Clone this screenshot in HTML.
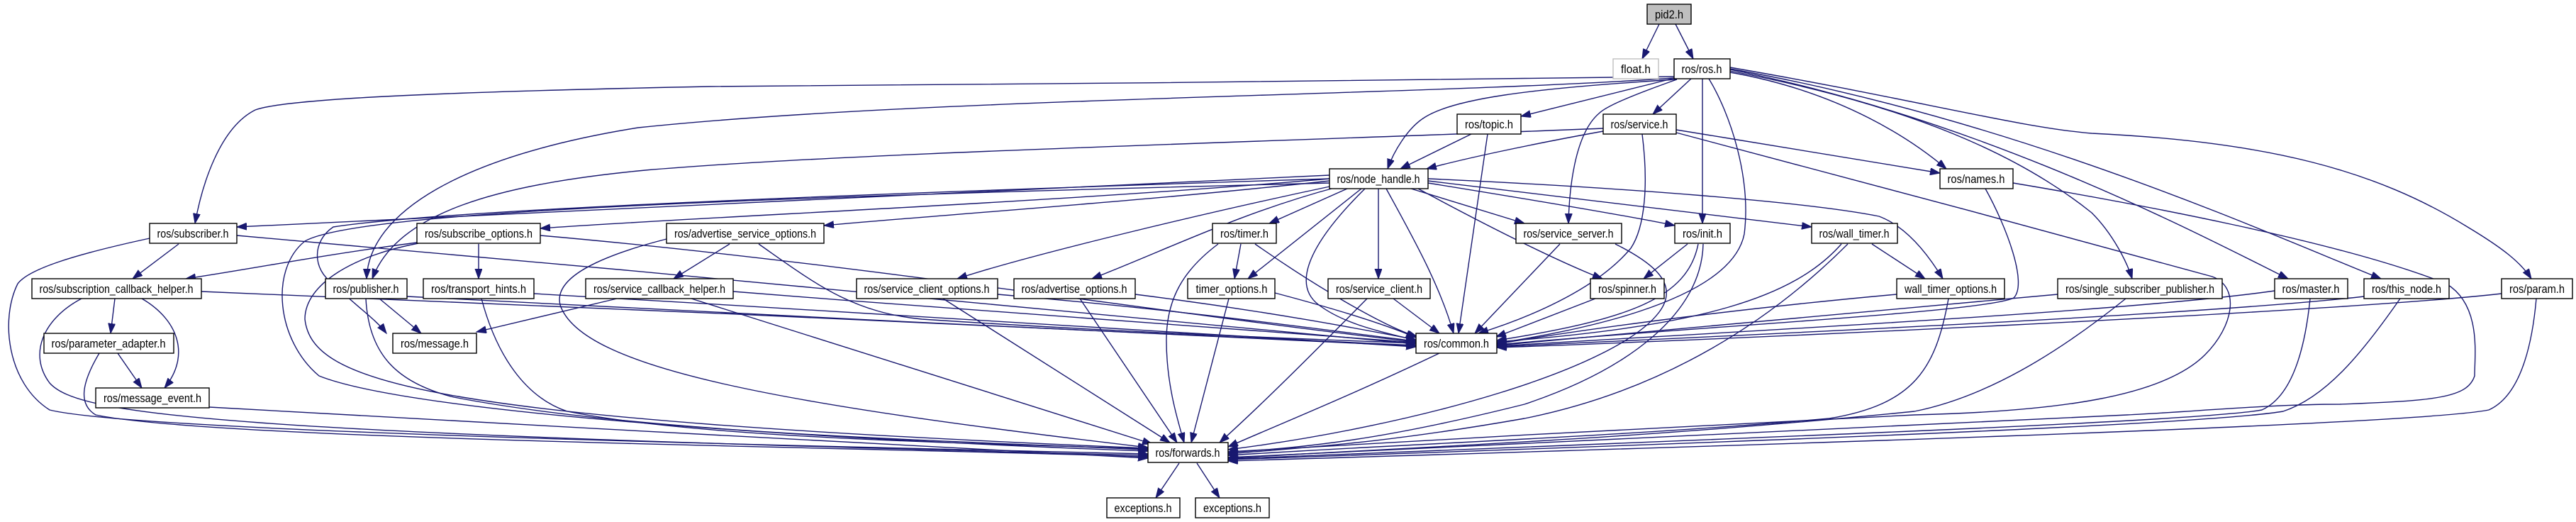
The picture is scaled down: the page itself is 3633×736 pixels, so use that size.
<!DOCTYPE html>
<html><head><meta charset="utf-8"><style>
html,body{margin:0;padding:0;background:#fff;}
svg{display:block;}
text{font-family:"Liberation Sans",sans-serif;font-size:17px;fill:#000;}
</style></head><body>
<svg width="3633" height="736" viewBox="0 0 3633 736" xmlns="http://www.w3.org/2000/svg">
<defs>
<marker id="a" markerUnits="userSpaceOnUse" markerWidth="16" markerHeight="12" refX="14" refY="5" orient="auto">
<path d="M0,0 L14,5 L0,10 Z" fill="#191970" stroke="#191970"/>
</marker>
</defs>
<g fill="none" stroke="#191970" stroke-width="1.4" marker-end="url(#a)">
<path d="M2340,34 L2316,83"/>
<path d="M2363,34 L2388,83"/>
<path d="M2361,108 C2000,115 1400,118 1000,122 C600,130 400,140 360,155 C310,180 285,260 275,315"/>
<path d="M2361,110 C2000,135 1300,138 900,180 C650,220 520,300 517,393"/>
<path d="M2365,112 C2150,125 2050,140 2010,165 C1985,180 1965,215 1957,238"/>
<path d="M2362,110 L2145,164"/>
<path d="M2385,111 L2331,161"/>
<path d="M2365,112 C2300,135 2265,150 2255,160 C2220,190 2213,270 2212,315"/>
<path d="M2401,111 L2401,315"/>
<path d="M2410,111 C2440,160 2470,250 2460,330 C2440,430 2200,470 2111,484"/>
<path d="M2440,102 C2600,130 2700,200 2745,238"/>
<path d="M2440,100 C2700,150 2850,220 2950,300 C2980,330 3000,370 3007,393"/>
<path d="M2440,98 C2800,170 3100,330 3227,393"/>
<path d="M2440,97 C2850,170 3200,330 3358,393"/>
<path d="M2440,95 C2700,140 2850,180 2950,188 C3200,200 3350,240 3480,320 C3530,350 3555,370 3570,393"/>
<path d="M2075,189 L1975,238"/>
<path d="M2098,189 L2057,470"/>
<path d="M2261,185 C2150,205 2060,225 2012,238"/>
<path d="M2364,183 C2500,205 2650,230 2736,244"/>
<path d="M2316,189 C2325,260 2320,320 2300,350 C2250,410 2150,450 2085,470"/>
<path d="M2364,187 C2550,235 2900,330 3120,390 C3160,405 3150,460 3110,500 C3050,560 2900,580 2700,585 C2600,590 2000,620 1732,637"/>
<path d="M2261,181 C1800,200 1200,215 910,240 C700,260 560,300 525,393"/>
<path d="M1875,252 C1000,280 600,300 470,320 C440,340 440,380 470,400 C500,430 530,450 545,470"/>
<path d="M1875,247 C1200,275 700,300 334,320"/>
<path d="M1875,252 C1500,285 1000,305 762,322"/>
<path d="M1875,255 C1600,285 1300,305 1162,318"/>
<path d="M1880,262 C1700,300 1450,360 1350,393"/>
<path d="M1885,264 C1750,300 1650,350 1540,393"/>
<path d="M1900,266 L1790,315"/>
<path d="M1920,266 L1760,393"/>
<path d="M1944,266 L1944,393"/>
<path d="M1955,266 C1990,330 2030,400 2050,470"/>
<path d="M1925,266 C1850,340 1820,400 1860,430 C1900,460 1960,470 1997,480"/>
<path d="M1875,258 C1000,280 500,300 430,340 C380,380 390,480 450,530 C600,590 1300,625 1619,636"/>
<path d="M1990,266 L2150,315"/>
<path d="M2000,266 C2100,320 2200,370 2260,393"/>
<path d="M2014,258 C2150,280 2300,305 2362,318"/>
<path d="M2014,255 L2555,320"/>
<path d="M2014,252 C2300,265 2550,285 2650,305 C2690,320 2720,360 2740,393"/>
<path d="M252,344 L187,393"/>
<path d="M334,332 C900,380 1600,450 1997,485"/>
<path d="M211,336 C100,360 40,380 25,400 C0,450 10,540 70,578 C200,610 1200,630 1619,640"/>
<path d="M588,342 C450,360 350,380 262,393"/>
<path d="M675,344 L675,393"/>
<path d="M762,332 C1200,370 1700,450 1997,482"/>
<path d="M590,343 C500,360 430,400 430,450 C440,540 600,590 1619,632"/>
<path d="M162,421 L156,470"/>
<path d="M200,421 C250,450 270,500 232,547"/>
<path d="M284,411 C800,430 1600,470 1997,487"/>
<path d="M115,421 C60,450 40,500 70,540 C110,585 300,610 1619,642"/>
<path d="M166,498 L200,547"/>
<path d="M140,498 C115,540 110,570 135,585 C300,620 1200,630 1619,644"/>
<path d="M295,574 C700,600 1300,625 1619,646"/>
<path d="M535,421 L594,470"/>
<path d="M574,418 C1000,440 1600,470 1997,488"/>
<path d="M516,421 C520,500 560,540 640,560 C900,610 1300,620 1619,634"/>
<path d="M753,414 C1200,440 1700,470 1997,489"/>
<path d="M679,421 C700,500 740,560 800,580 C1000,620 1400,625 1619,633"/>
<path d="M1029,344 L950,393"/>
<path d="M1070,344 C1150,400 1200,440 1300,450 C1600,470 1900,480 1997,484"/>
<path d="M940,337 C850,360 780,390 790,430 C820,520 1100,570 1619,631"/>
<path d="M870,421 L672,468"/>
<path d="M1034,411 C1400,440 1800,470 1997,483"/>
<path d="M975,421 L1625,626"/>
<path d="M1407,415 C1700,440 1900,470 1997,481"/>
<path d="M1330,421 L1650,624"/>
<path d="M1601,415 C1800,440 1950,470 1997,479"/>
<path d="M1523,421 L1660,624"/>
<path d="M1750,344 L1741,393"/>
<path d="M1770,344 C1850,400 1950,460 1999,475"/>
<path d="M1718,344 C1670,380 1645,420 1645,480 C1645,540 1660,590 1670,624"/>
<path d="M1798,413 C1900,440 1960,460 1997,476"/>
<path d="M1733,421 L1680,624"/>
<path d="M2200,344 L2080,470"/>
<path d="M2278,344 C2330,370 2370,400 2340,440 C2280,520 2000,600 1732,634"/>
<path d="M1965,421 L2030,470"/>
<path d="M1928,421 C1850,500 1780,570 1720,624"/>
<path d="M2250,421 L2110,475"/>
<path d="M2380,344 L2318,393"/>
<path d="M2395,344 C2380,420 2300,450 2111,480"/>
<path d="M2402,344 C2400,440 2300,520 2150,570 C1950,620 1850,630 1732,638"/>
<path d="M2640,344 L2715,393"/>
<path d="M2597,344 C2530,420 2400,460 2111,482"/>
<path d="M2606,344 C2500,450 2350,550 2150,590 C1950,625 1850,630 1732,640"/>
<path d="M2675,415 C2400,440 2200,470 2111,485"/>
<path d="M2748,421 C2730,520 2700,570 2580,590 C2300,615 2000,625 1732,642"/>
<path d="M2800,266 C2830,320 2860,400 2840,420 C2800,440 2400,460 2111,486"/>
<path d="M2839,258 C3000,285 3300,340 3450,400 C3500,430 3490,500 3490,530 C3480,560 3440,565 3300,570 C3200,570 3100,580 3000,585 C2400,610 2000,630 1732,645"/>
<path d="M2902,415 C2600,440 2300,470 2111,487"/>
<path d="M2998,421 C2900,500 2800,560 2700,580 C2300,620 2000,630 1732,646"/>
<path d="M3208,410 C3000,440 2400,470 2111,488"/>
<path d="M3258,421 C3250,500 3230,560 3190,578 C3100,595 2400,620 1732,647"/>
<path d="M3334,418 C3100,445 2400,475 2111,489"/>
<path d="M3385,421 C3330,500 3280,560 3220,580 C3100,600 2400,625 1732,648"/>
<path d="M3528,414 C3300,440 2400,480 2111,490"/>
<path d="M3577,421 C3570,500 3550,560 3510,578 C3400,600 2400,630 1732,650"/>
<path d="M2030,498 C1900,560 1800,600 1732,630"/>
<path d="M1663,653 L1630,702"/>
<path d="M1688,653 L1720,702"/>
</g>
<g stroke="#000" stroke-width="1.4" fill="#fff">
<rect x="2323" y="6" width="62" height="28" fill="#bfbfbf"/>
<rect x="2275" y="83" width="64" height="28" stroke="#bfbfbf"/>
<rect x="2361" y="83" width="79" height="28"/>
<rect x="2055" y="161" width="90" height="28"/>
<rect x="2261" y="161" width="103" height="28"/>
<rect x="1875" y="238" width="139" height="28"/>
<rect x="2736" y="238" width="103" height="28"/>
<rect x="211" y="315" width="123" height="28"/>
<rect x="588" y="315" width="174" height="28"/>
<rect x="940" y="315" width="222" height="28"/>
<rect x="1710" y="315" width="90" height="28"/>
<rect x="2138" y="315" width="149" height="28"/>
<rect x="2362" y="315" width="78" height="28"/>
<rect x="2555" y="315" width="121" height="28"/>
<rect x="45" y="393" width="239" height="28"/>
<rect x="459" y="393" width="115" height="28"/>
<rect x="597" y="393" width="156" height="28"/>
<rect x="826" y="393" width="208" height="28"/>
<rect x="1208" y="393" width="199" height="28"/>
<rect x="1430" y="393" width="171" height="28"/>
<rect x="1675" y="393" width="123" height="28"/>
<rect x="1873" y="393" width="144" height="28"/>
<rect x="2243" y="393" width="104" height="28"/>
<rect x="2675" y="393" width="152" height="28"/>
<rect x="2902" y="393" width="232" height="28"/>
<rect x="3208" y="393" width="103" height="28"/>
<rect x="3334" y="393" width="120" height="28"/>
<rect x="3528" y="393" width="100" height="28"/>
<rect x="62" y="470" width="183" height="28"/>
<rect x="554" y="470" width="118" height="28"/>
<rect x="1997" y="470" width="114" height="28"/>
<rect x="135" y="547" width="160" height="28"/>
<rect x="1619" y="624" width="113" height="28"/>
<rect x="1561" y="702" width="103" height="28"/>
<rect x="1686" y="702" width="104" height="28"/>
</g>
<g text-anchor="middle" lengthAdjust="spacingAndGlyphs">
<text x="2354" y="26" textLength="40" lengthAdjust="spacingAndGlyphs">pid2.h</text>
<text x="2307" y="103" textLength="42" lengthAdjust="spacingAndGlyphs">float.h</text>
<text x="2400" y="103" textLength="57" lengthAdjust="spacingAndGlyphs">ros/ros.h</text>
<text x="2100" y="181" textLength="68" lengthAdjust="spacingAndGlyphs">ros/topic.h</text>
<text x="2312" y="181" textLength="81" lengthAdjust="spacingAndGlyphs">ros/service.h</text>
<text x="1944" y="258" textLength="117" lengthAdjust="spacingAndGlyphs">ros/node_handle.h</text>
<text x="2787" y="258" textLength="81" lengthAdjust="spacingAndGlyphs">ros/names.h</text>
<text x="272" y="335" textLength="101" lengthAdjust="spacingAndGlyphs">ros/subscriber.h</text>
<text x="675" y="335" textLength="152" lengthAdjust="spacingAndGlyphs">ros/subscribe_options.h</text>
<text x="1051" y="335" textLength="200" lengthAdjust="spacingAndGlyphs">ros/advertise_service_options.h</text>
<text x="1755" y="335" textLength="68" lengthAdjust="spacingAndGlyphs">ros/timer.h</text>
<text x="2212" y="335" textLength="127" lengthAdjust="spacingAndGlyphs">ros/service_server.h</text>
<text x="2401" y="335" textLength="56" lengthAdjust="spacingAndGlyphs">ros/init.h</text>
<text x="2615" y="335" textLength="99" lengthAdjust="spacingAndGlyphs">ros/wall_timer.h</text>
<text x="164" y="413" textLength="217" lengthAdjust="spacingAndGlyphs">ros/subscription_callback_helper.h</text>
<text x="516" y="413" textLength="93" lengthAdjust="spacingAndGlyphs">ros/publisher.h</text>
<text x="675" y="413" textLength="134" lengthAdjust="spacingAndGlyphs">ros/transport_hints.h</text>
<text x="930" y="413" textLength="186" lengthAdjust="spacingAndGlyphs">ros/service_callback_helper.h</text>
<text x="1307" y="413" textLength="177" lengthAdjust="spacingAndGlyphs">ros/service_client_options.h</text>
<text x="1515" y="413" textLength="149" lengthAdjust="spacingAndGlyphs">ros/advertise_options.h</text>
<text x="1737" y="413" textLength="101" lengthAdjust="spacingAndGlyphs">timer_options.h</text>
<text x="1945" y="413" textLength="122" lengthAdjust="spacingAndGlyphs">ros/service_client.h</text>
<text x="2295" y="413" textLength="82" lengthAdjust="spacingAndGlyphs">ros/spinner.h</text>
<text x="2751" y="413" textLength="130" lengthAdjust="spacingAndGlyphs">wall_timer_options.h</text>
<text x="3018" y="413" textLength="210" lengthAdjust="spacingAndGlyphs">ros/single_subscriber_publisher.h</text>
<text x="3259" y="413" textLength="81" lengthAdjust="spacingAndGlyphs">ros/master.h</text>
<text x="3394" y="413" textLength="98" lengthAdjust="spacingAndGlyphs">ros/this_node.h</text>
<text x="3578" y="413" textLength="78" lengthAdjust="spacingAndGlyphs">ros/param.h</text>
<text x="153" y="490" textLength="161" lengthAdjust="spacingAndGlyphs">ros/parameter_adapter.h</text>
<text x="613" y="490" textLength="96" lengthAdjust="spacingAndGlyphs">ros/message.h</text>
<text x="2054" y="490" textLength="92" lengthAdjust="spacingAndGlyphs">ros/common.h</text>
<text x="215" y="567" textLength="138" lengthAdjust="spacingAndGlyphs">ros/message_event.h</text>
<text x="1675" y="644" textLength="91" lengthAdjust="spacingAndGlyphs">ros/forwards.h</text>
<text x="1612" y="722" textLength="81" lengthAdjust="spacingAndGlyphs">exceptions.h</text>
<text x="1738" y="722" textLength="82" lengthAdjust="spacingAndGlyphs">exceptions.h</text>
</g>
</svg>
</body></html>
